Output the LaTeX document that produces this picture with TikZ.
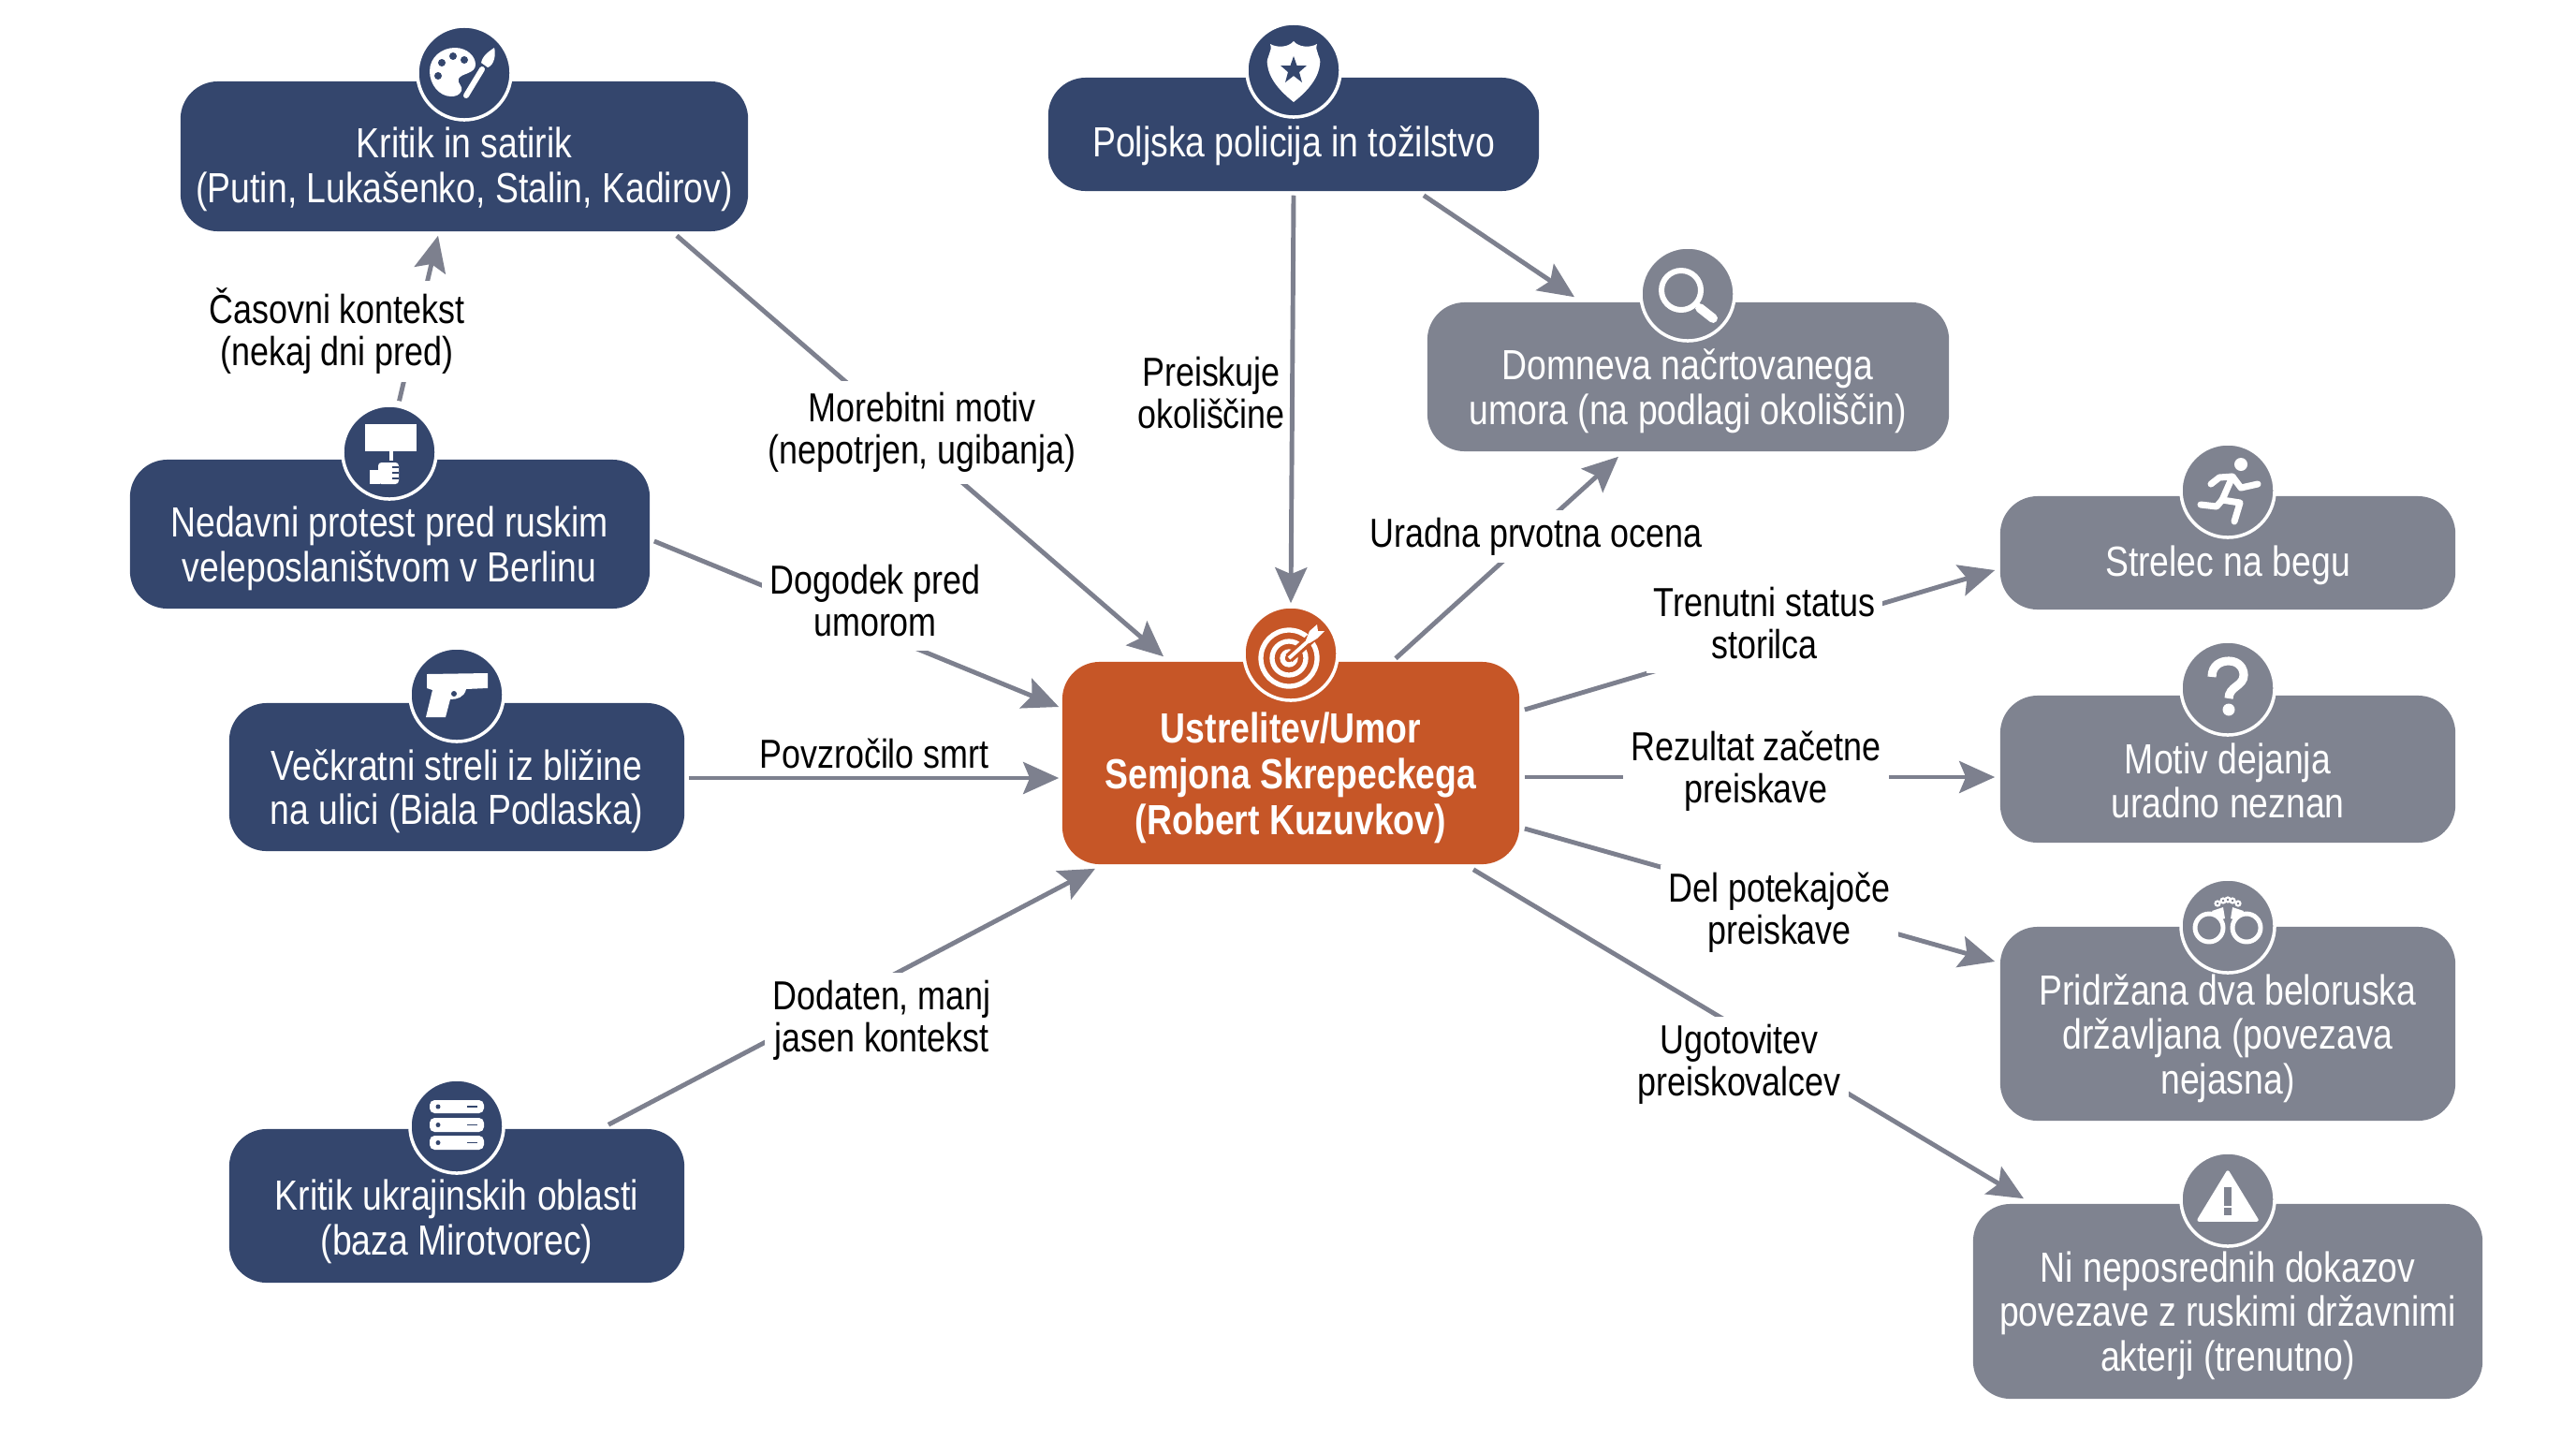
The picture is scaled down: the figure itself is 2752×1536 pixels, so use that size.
\documentclass[tikz,border=0pt]{standalone}
\usepackage{fontspec}
\setmainfont{Liberation Sans}[FakeStretch=0.83]
\usetikzlibrary{calc, arrows.meta}

\begin{document}
\begin{tikzpicture}[x=0.01cm, y=-0.01cm,
    boxBase/.style={rounded corners=0.4cm, inner sep=0pt},
    navyBox/.style={boxBase, fill=navyColour},
    greyBox/.style={boxBase, fill=greyColour},
    orangeBox/.style={boxBase, fill=orangeColour},
    iconDisc/.style={circle, draw=white, line width=1pt, minimum size=1cm, inner sep=0pt},
    boxText/.style={align=center, text=white, font=\fontsize{12.8}{13.5}\selectfont, inner sep=0pt},
    linkText/.style={align=center, text=black, font=\fontsize{12.3}{12.8}\selectfont, inner sep=0pt},
    linkLabel/.style={linkText, fill=white, inner sep=0.08cm},
    linkLine/.style={draw=linkColour, line width=1.4pt},
    linkArrow/.style={linkLine, -{Stealth[length=0.38cm, width=0.34cm, inset=0.07cm]}}
  ]
    \definecolor{navyColour}{HTML}{34466D}
    \definecolor{greyColour}{HTML}{7F8390}
    \definecolor{orangeColour}{HTML}{C65627}
    \definecolor{linkColour}{HTML}{7D808E}

    % Fix the page size
    \useasboundingbox (0,0) rectangle (2752,1536);

    % Draw boxes
    \node[navyBox, minimum width=6.06cm, minimum height=1.6cm] (kritik) at (496,167) {};
    \node[navyBox, minimum width=5.24cm, minimum height=1.21cm] (poljska) at (1382,143.5) {};
    \node[greyBox, minimum width=5.57cm, minimum height=1.59cm] (domneva) at (1803.5,402.5) {};
    \node[orangeBox, minimum width=4.88cm, minimum height=2.16cm] (umor) at (1379,815) {};
    \node[navyBox, minimum width=5.55cm, minimum height=1.59cm] (nedavni) at (416.5,570.5) {};
    \node[navyBox, minimum width=4.86cm, minimum height=1.58cm] (streli) at (488,830) {};
    \node[navyBox, minimum width=4.86cm, minimum height=1.64cm] (ukrajina) at (488,1288) {};
    \node[greyBox, minimum width=4.86cm, minimum height=1.21cm] (strelec) at (2380,590.5) {};
    \node[greyBox, minimum width=4.86cm, minimum height=1.57cm] (motiv) at (2380,821.5) {};
    \node[greyBox, minimum width=4.86cm, minimum height=2.07cm] (pridrzana) at (2380,1093.5) {};
    \node[greyBox, minimum width=5.44cm, minimum height=2.08cm] (dokazi) at (2380,1390) {};

    % Draw icon discs
    \node[iconDisc, fill=navyColour] (kritikIcon) at (496,78) {};
    \node[iconDisc, fill=navyColour] (poljskaIcon) at (1382,75) {};
    \node[iconDisc, fill=greyColour] (domnevaIcon) at (1803,314) {};
    \node[iconDisc, fill=orangeColour] (umorIcon) at (1379,698) {};
    \node[iconDisc, fill=navyColour] (nedavniIcon) at (416,483) {};
    \node[iconDisc, fill=navyColour] (streliIcon) at (488,742) {};
    \node[iconDisc, fill=navyColour] (ukrajinaIcon) at (488,1203) {};
    \node[iconDisc, fill=greyColour] (strelecIcon) at (2380,524) {};
    \node[iconDisc, fill=greyColour] (motivIcon) at (2380,735) {};
    \node[iconDisc, fill=greyColour] (pridrzanaIcon) at (2380,989) {};
    \node[iconDisc, fill=greyColour] (dokaziIcon) at (2380,1281) {};

    % Draw connectors
    \draw[linkArrow] ($(nedavni.north)+(10,-62)$) -- ($(kritik.south)+(-28,4)$);
    \draw[linkArrow] ($(kritik.south)+(227,4)$) -- ($(umor.north)+(-136,-5)$);
    \draw[linkArrow] ($(poljska.south)+(0,4)$) -- ($(umorIcon.north)+(0,-2)$);
    \draw[linkArrow] ($(poljska.south)+(139,4)$) -- ($(domneva.north)+(-121.5,-5)$);
    \draw[linkArrow] ($(umor.north)+(112,-3)$) -- ($(domneva.south)+(-74.5,5)$);
    \draw[linkArrow] ($(nedavni.east)+(4,7.5)$) -- ($(umor.west)+(-3,-60)$);
    \draw[linkArrow] ($(streli.east)+(4,1)$) -- ($(umor.west)+(-3,16)$);
    \draw[linkArrow] ($(ukrajina.north)+(162,-4)$) -- ($(umor.south)+(-209,4)$);
    \draw[linkArrow] ($(umor.east)+(5,-57)$) -- ($(strelec.west)+(-5,18.5)$);
    \draw[linkArrow] ($(umor.east)+(5,15)$) -- ($(motiv.west)+(-5,8.5)$);
    \draw[linkArrow] ($(umor.east)+(5,70)$) -- ($(pridrzana.west)+(-5,-66.5)$);
    \draw[linkArrow] ($(umor.south)+(195,5)$) -- ($(dokazi.north)+(-218,-5)$);

    % Label connectors
    \node[linkLabel] (casovniLabel) at (360,354) {Časovni kontekst\\(nekaj dni pred)};
    \node[linkLabel, inner ysep=0.12cm] (motivLabel) at (985,462) {Morebitni motiv\\(nepotrjen, ugibanja)};
    \node[linkText] (preiskujeLabel) at (1294,420) {Preiskuje\\okoliščine};
    \node[linkLabel] (ocenaLabel) at (1641,573) {Uradna prvotna ocena};
    \node[linkLabel, inner ysep=0.15cm] (dogodekLabel) at (935,642) {Dogodek pred\\umorom};
    \node[linkText] (smrtLabel) at (934,805) {Povzročilo smrt};
    \node[linkLabel] (dodatenLabel) at (942,1090) {Dodaten, manj\\jasen kontekst};
    \node[linkLabel, inner ysep=0.15cm] (statusLabel) at (1885,666) {Trenutni status\\storilca};
    \node[linkLabel] (rezultatLabel) at (1876,824) {Rezultat začetne\\preiskave};
    \node[linkLabel] (delLabel) at (1901,975) {Del potekajoče\\preiskave};
    \node[linkLabel] (ugotovitevLabel) at (1858,1137) {Ugotovitev\\preiskovalcev};

    % Write box texts
    \node[boxText] (kritikText) at (496,181) {Kritik in satirik\\(Putin, Lukašenko, Stalin, Kadirov)};
    \node[boxText] (poljskaText) at (1382,156) {Poljska policija in tožilstvo};
    \node[boxText] (domnevaText) at (1803,418) {Domneva načrtovanega\\umora (na podlagi okoliščin)};
    \node[boxText, font=\fontsize{12.8}{14}\selectfont\bfseries] (umorText) at (1379,831) {Ustrelitev/Umor\\Semjona Skrepeckega\\(Robert Kuzuvkov)};
    \node[boxText] (nedavniText) at (416,586) {Nedavni protest pred ruskim\\veleposlaništvom v Berlinu};
    \node[boxText] (streliText) at (488,845) {Večkratni streli iz bližine\\na ulici (Biala Podlaska)};
    \node[boxText] (ukrajinaText) at (488,1305) {Kritik ukrajinskih oblasti\\(baza Mirotvorec)};
    \node[boxText] (strelecText) at (2380,604) {Strelec na begu};
    \node[boxText] (motivText) at (2380,834) {Motiv dejanja\\uradno neznan};
    \node[boxText] (pridrzanaText) at (2380,1109) {Pridržana dva beloruska\\državljana (povezava\\nejasna)};
    \node[boxText] (dokaziText) at (2380,1405) {Ni neposrednih dokazov\\povezave z ruskimi državnimi\\akterji (trenutno)};

    % Draw palette icon
    \begin{scope}[shift={(kritikIcon)}]
        \fill[white] (-37,-2) .. controls (-37,-17) and (-24,-27) .. (-10,-27) .. controls (3,-27) and (12,-18) .. (12,-9) .. controls (12,1) and (-3,0) .. (-6,6) .. controls (-8,11) and (-1,14) .. (-3,19) .. controls (-5,24) and (-10,25) .. (-14,25) .. controls (-27,25) and (-37,12) .. (-37,-2) -- cycle;
        \foreach \dotX/\dotY in {-28/3, -24/-11, -12/-18, 0/-14}
            \fill[navyColour] (\dotX,\dotY) circle (4);
        \draw[white, line width=1.7pt, line cap=round] (2,24) -- (19,-4);
        \fill[white] (18,-11) .. controls (20,-20) and (28,-24) .. (32,-27) .. controls (34,-20) and (32,-8) .. (25,-6) -- cycle;
    \end{scope}

    % Draw shield icon
    \begin{scope}[shift={(poljskaIcon)}]
        \fill[white] (0,-31) .. controls (-6,-24) and (-18,-24) .. (-25,-28) .. controls (-22,-20) and (-30,-14) .. (-28,-6) .. controls (-26,12) and (-10,26) .. (0,34) .. controls (10,26) and (26,12) .. (28,-6) .. controls (30,-14) and (22,-20) .. (25,-28) .. controls (18,-24) and (6,-24) .. (0,-31) -- cycle;
        \fill[navyColour] (0,-15) -- (3.5,-5) -- (14,-5) -- (6,2) -- (9,13) -- (0,6) -- (-9,13) -- (-6,2) -- (-14,-5) -- (-3.5,-5) -- cycle;
    \end{scope}

    % Draw magnifier icon
    \begin{scope}[shift={(domnevaIcon)}]
        \draw[white, line width=1.7pt] (-7,-4) circle (21);
        \draw[white, line width=2.8pt, line cap=round] (13,15) -- (27,26);
    \end{scope}

    % Draw target icon
    \begin{scope}[shift={(umorIcon)}]
        \draw[white, line width=1.5pt] (-2,5) circle (30);
        \draw[white, line width=1.5pt] (-2,5) circle (18);
        \draw[white, line width=1.5pt] (-2,5) circle (7);
        \draw[orangeColour, line width=3pt] (-2,5) -- (26,-20);
        \draw[white, line width=1.1pt] (-2,5) -- (26,-20);
        \fill[white] (16,-14) -- (20,-24) -- (28,-31) -- (29,-24) -- (36,-24) -- (28,-16) -- (20,-11) -- cycle;
    \end{scope}

    % Draw protest sign icon
    \begin{scope}[shift={(nedavniIcon)}]
        \fill[white] (-26,-30) rectangle (29,-1);
        \fill[white] (0,-1) rectangle (4,9);
        \fill[white, rounded corners=1pt] (-12,11) rectangle (10,34);
        \fill[white] (-21,19) rectangle (-10,34);
        \foreach \fingerY in {16, 22, 28}
            \draw[navyColour, line width=0.3pt] (3,\fingerY) -- (10,\fingerY);
    \end{scope}

    % Draw pistol icon
    \begin{scope}[shift={(streliIcon)}]
        \fill[white] (-32,-22) -- (33,-23) -- (33,-7) -- (10,-6) .. controls (8,3) and (0,5) .. (-7,5) -- (-12,24) -- (-33,24) -- (-26,-5) -- (-32,-7) -- cycle;
        \fill[navyColour] (-3,-1) circle (3);
    \end{scope}

    % Draw server icon
    \begin{scope}[shift={(ukrajinaIcon)}]
        \foreach \rackTop/\rackBottom in {-28/-14, -9/6, 10/25} {
            \fill[white, rounded corners=1.5] (-29,\rackTop) rectangle (29,\rackBottom);
            \fill[navyColour] (-20,{(\rackTop+\rackBottom)/2}) circle (2.5);
            \draw[navyColour, line width=0.5pt] (11,{(\rackTop+\rackBottom)/2}) -- (22,{(\rackTop+\rackBottom)/2});
        }
    \end{scope}

    % Draw runner icon
    \begin{scope}[shift={(strelecIcon)}, white, line width=2pt, line cap=round, line join=round]
        \fill (14,-28) circle (7);
        \draw (5,-15) -- (-6,10) -- (13,13) -- (7,33);
        \draw (-18,-7) -- (-9,-14) -- (5,-15) -- (14,-3) -- (32,-7);
        \draw (-6,10) -- (-12,17) -- (-29,15);
    \end{scope}

    % Draw question icon
    \begin{scope}[shift={(motivIcon)}]
        \draw[white, line width=2.6pt] (-17,-12) .. controls (-17,-25) and (-7,-29) .. (1,-29) .. controls (12,-29) and (17,-21) .. (17,-14) .. controls (17,-2) and (1,-2) .. (1,11);
        \fill[white] (1,23) circle (6.5);
    \end{scope}

    % Draw handcuffs icon
    \begin{scope}[shift={(pridrzanaIcon)}, white]
        \draw[line width=1.4pt] (-20,2) circle (15);
        \draw[line width=1.4pt] (20,2) circle (15);
        \fill (-17,-16) -- (-5,-20) -- (-3,-8) -- (-10,-6) -- cycle;
        \fill (17,-16) -- (5,-20) -- (3,-8) -- (10,-6) -- cycle;
        \foreach \linkX/\linkY in {-11/-24, -5/-27, 0/-28, 5/-27, 11/-24}
            \draw[line width=0.6pt] (\linkX,\linkY) circle (2.5);
    \end{scope}

    % Draw warning icon
    \begin{scope}[shift={(dokaziIcon)}]
        \fill[white, draw=white, line width=1pt, line join=round] (0,-29) -- (-31,22) -- (31,22) -- cycle;
        \fill[greyColour] (-4,-13) rectangle (4,7);
        \fill[greyColour] (-4,9) rectangle (4,17);
    \end{scope}

\end{tikzpicture}
\end{document}
